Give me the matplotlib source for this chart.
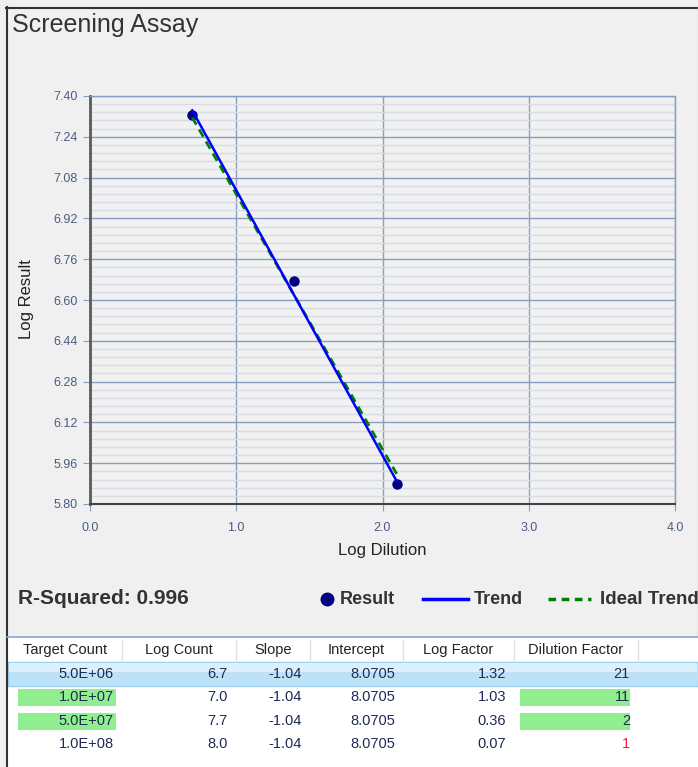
import numpy as np
import matplotlib
matplotlib.use("Agg")
import matplotlib.pyplot as plt
from matplotlib.lines import Line2D
from matplotlib.patches import Rectangle

plt.rcParams['font.family'] = ['Liberation Sans', 'DejaVu Sans']

# Assay data
log_dilution = [0.699, 1.398, 2.097]
log_result = [7.325, 6.675, 5.877]
trend_slope = -1.04
trend_intercept = 8.0705
ideal_slope = -1.0
ideal_intercept = 8.015
r_squared = 0.996

# Table data
headers = ["Target Count", "Log Count", "Slope", "Intercept", "Log Factor", "Dilution Factor"]
target_count = [5e6, 1e7, 5e7, 1e8]
log_count = [6.7, 7.0, 7.7, 8.0]
slopes = [-1.04, -1.04, -1.04, -1.04]
intercepts = [8.0705, 8.0705, 8.0705, 8.0705]
log_factor = [1.32, 1.03, 0.36, 0.07]
dilution_factor = [21, 11, 2, 1]
green_rows = [1, 2]
selected_row = 0

W, H = 698, 767


def fx(x):
    return x / W


def fy(y):
    return 1 - y / H


fig = plt.figure(figsize=(W / 100, H / 100), dpi=100, facecolor='#f0f0f0')

# panel frame and white table area
fig.add_artist(Rectangle((fx(6), 0), fx(698) - fx(6), fy(637), transform=fig.transFigure,
                         facecolor='white', edgecolor='none', zorder=0))
fig.add_artist(Line2D([fx(6.5), fx(6.5)], [0, fy(7)], color='#333333', lw=1.5))
fig.add_artist(Line2D([fx(6), 1], [fy(7.5), fy(7.5)], color='#333333', lw=1.5))
fig.add_artist(Line2D([fx(697.5), fx(697.5)], [fy(637), fy(8)], color='#d4d4d4', lw=1))

fig.text(fx(12), fy(25), "Screening Assay", fontsize=18, color='#333333', va='center', ha='left')

# chart
ax = fig.add_axes([fx(90), fy(504), fx(675) - fx(90), fy(96) - fy(504)])
ax.set_facecolor('#f1f1f1')
ax.set_xlim(0, 4)
ax.set_ylim(5.80, 7.40)
ax.set_xticks(np.linspace(0, 4, 5))
ax.set_yticks(np.linspace(5.80, 7.40, 11))
ax.set_yticks(np.linspace(5.80, 7.40, 51), minor=True)
ax.set_xticklabels(["%.1f" % v for v in np.linspace(0, 4, 5)])
ax.set_yticklabels(["%.2f" % v for v in np.linspace(5.80, 7.40, 11)])
ax.grid(True, which='major', color='#8a9cc0', lw=1)
ax.grid(True, which='minor', axis='y', color='#d6dbe4', lw=1)
ax.set_axisbelow(True)
ax.tick_params(which='major', length=5, color='#8a9cc0', labelcolor='#4a5b85', labelsize=9, pad=4)
ax.tick_params(axis='x', pad=8)
ax.tick_params(which='minor', length=0)
for side in ['top', 'right']:
    ax.spines[side].set_color('#8a9cc0')
    ax.spines[side].set_linewidth(1)
ax.spines['left'].set_color('#5a5a5a')
ax.spines['left'].set_linewidth(2)
ax.spines['bottom'].set_color('#444444')
ax.spines['bottom'].set_linewidth(1.5)

xs = np.array([log_dilution[0], log_dilution[-1]])
ax.plot(log_dilution, log_result, 'o', color='#000080', ms=6.5, zorder=3)
ax.plot(xs, ideal_intercept + ideal_slope * xs, color='#008000', lw=2, ls=(0, (3, 2)), zorder=4)
ax.plot(xs, trend_intercept + trend_slope * xs, color='#0000ff', lw=1.8, zorder=5)

fig.text(fx(382), fy(551), "Log Dilution", fontsize=12, color='#222222', ha='center', va='center')
fig.text(fx(27), fy(299), "Log Result", fontsize=12, color='#222222', ha='center', va='center',
         rotation=90)

# R-squared and legend
fig.text(fx(18), fy(599), "R-Squared: %.3f" % r_squared, fontsize=15, fontweight='bold',
         color='#333333', ha='left', va='center')
fig.add_artist(Line2D([fx(327)], [fy(599)], marker='o', color='#000080', ms=9, ls='none'))
fig.text(fx(340), fy(599), "Result", fontsize=13, fontweight='bold', color='#333333', va='center')
fig.add_artist(Line2D([fx(423), fx(468)], [fy(599), fy(599)], color='#0000ff', lw=2.5))
fig.text(fx(474), fy(599), "Trend", fontsize=13, fontweight='bold', color='#333333', va='center')
fig.add_artist(Line2D([fx(548), fx(591)], [fy(599), fy(599)], color='#008000', lw=2.5,
                      ls=(0, (2.2, 1.6))))
fig.text(fx(600), fy(599), "Ideal Trend", fontsize=13.5, fontweight='bold', color='#333333',
         va='center')

# table
col_edges = [8, 122, 236, 310, 403, 514, 638]
row_y = [674, 697, 721, 744]
fig.add_artist(Line2D([fx(7), 1], [fy(637), fy(637)], color='#86a6d0', lw=1.2))
for xe in col_edges[1:]:
    fig.add_artist(Line2D([fx(xe), fx(xe)], [fy(640), fy(660)], color='#e0e0e0', lw=1))
for i, name in enumerate(headers):
    cx = (col_edges[i] + col_edges[i + 1]) / 2
    fig.text(fx(cx), fy(650), name, fontsize=10.5, color='#222222', ha='center', va='center')

# selected row highlight
fig.add_artist(Rectangle((fx(8), fy(686)), fx(698) - fx(8), fy(662) - fy(686),
                         transform=fig.transFigure, facecolor='#bde2f8', edgecolor='#9dcff0',
                         lw=1, zorder=1))
fig.add_artist(Rectangle((fx(9), fy(672)), fx(697) - fx(9), fy(663) - fy(672),
                         transform=fig.transFigure, facecolor='#dcf0fc', edgecolor='none',
                         zorder=1))

for r in green_rows:
    for x0, x1 in [(18, 116), (520, 630)]:
        fig.add_artist(Rectangle((fx(x0), fy(row_y[r] + 8.5)), fx(x1) - fx(x0), fy(row_y[r] - 8.5) - fy(row_y[r] + 8.5),
                                 transform=fig.transFigure, facecolor='#90ee90', edgecolor='none',
                                 zorder=1))

text_color = '#1f2a55'
for r in range(len(target_count)):
    cells = ["%.1E" % target_count[r], "%.1f" % log_count[r], "%.2f" % slopes[r],
             "%.4f" % intercepts[r], "%.2f" % log_factor[r], "%d" % dilution_factor[r]]
    for c, val in enumerate(cells):
        color = text_color
        if c == 5 and dilution_factor[r] == 1:
            color = '#ff1744'
        fig.text(fx(col_edges[c + 1] - 8), fy(row_y[r]), val, fontsize=10.5, color=color,
                 ha='right', va='center', zorder=3)

fig.savefig("out.png", dpi=100, facecolor=fig.get_facecolor())
